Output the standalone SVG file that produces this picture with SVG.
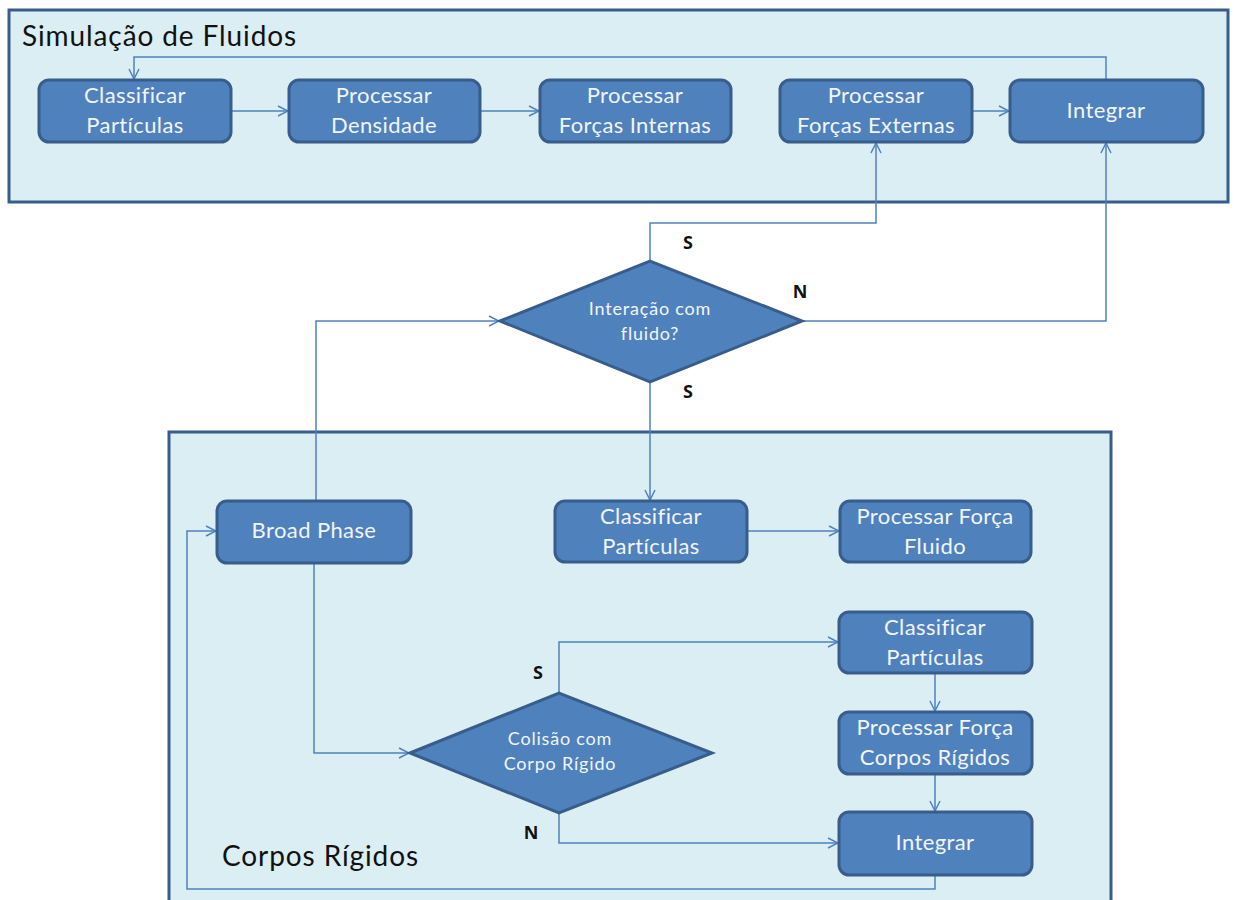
<svg xmlns="http://www.w3.org/2000/svg" width="1234" height="900" viewBox="0 0 1234 900">
  <defs>
    <marker id="arr" viewBox="0 0 12 12" refX="11" refY="6" markerWidth="12" markerHeight="12" markerUnits="userSpaceOnUse" orient="auto">
      <path d="M1,1 L11,6 L1,11" fill="none" stroke="#4f81bd" stroke-width="1.5"/>
    </marker>
    <style>
      .panel { fill: #dbeef4; stroke: #385d8a; stroke-width: 3; }
      .box { fill: #4f81bd; stroke: #385d8a; stroke-width: 3; }
      .lbl { fill: #f2f5fa; font-family: Lato, "Open Sans", sans-serif; font-size: 22px; letter-spacing: 0.4px; text-anchor: middle; }
      .dlbl { fill: #f2f5fa; font-family: Lato, "Open Sans", sans-serif; font-size: 18px; letter-spacing: 0.8px; text-anchor: middle; }
      .title { fill: #111; font-family: Lato, "Open Sans", sans-serif; font-size: 28px; letter-spacing: 0.9px; }
      .yn { fill: #111; font-family: "Open Sans", Lato, sans-serif; font-size: 18px; font-weight: bold; text-anchor: middle; }
      .conn { fill: none; stroke: #4f81bd; stroke-width: 1.5; }
    </style>
  </defs>

  <rect width="1234" height="900" fill="#ffffff"/>

  <!-- containers -->
  <g id="fluid-panel">
    <rect class="panel" x="9" y="10" width="1219" height="192"/>
    <text class="title" x="22" y="46">Simulação de Fluidos</text>
  </g>
  <g id="rigid-panel">
    <rect class="panel" x="169" y="432" width="942" height="490"/>
    <text class="title" x="222" y="866" font-size="26" letter-spacing="0.5">Corpos Rígidos</text>
  </g>

  <!-- connectors -->
  <g id="connectors">
    <!-- fluid pipeline -->
    <path class="conn" marker-end="url(#arr)" d="M231,111 H288"/>
    <path class="conn" marker-end="url(#arr)" d="M480,111 H539"/>
    <path class="conn" marker-end="url(#arr)" d="M972,111 H1009"/>
    <path class="conn" marker-end="url(#arr)" d="M1106,80 V57 H134 V79"/>
    <!-- fluid interaction decision -->
    <path class="conn" marker-end="url(#arr)" d="M650,261 V223 H876 V143"/>
    <path class="conn" marker-end="url(#arr)" d="M802,321 H1106 V143"/>
    <path class="conn" marker-end="url(#arr)" d="M650,382 V500"/>
    <path class="conn" marker-end="url(#arr)" d="M316,500 V321 H499"/>
    <path class="conn" marker-end="url(#arr)" d="M747,531 H839"/>
    <!-- rigid body pipeline -->
    <path class="conn" marker-end="url(#arr)" d="M314,563 V753 H409"/>
    <path class="conn" marker-end="url(#arr)" d="M559,693 V642 H838"/>
    <path class="conn" marker-end="url(#arr)" d="M559,813 V843 H838"/>
    <path class="conn" marker-end="url(#arr)" d="M935,674 V711"/>
    <path class="conn" marker-end="url(#arr)" d="M935,775 V811"/>
    <path class="conn" marker-end="url(#arr)" d="M935,876 V889 H187 V531 H216"/>
    <!-- branch labels -->
    <text class="yn" x="688" y="249">S</text>
    <text class="yn" x="800" y="298">N</text>
    <text class="yn" x="688" y="398">S</text>
    <text class="yn" x="538" y="679">S</text>
    <text class="yn" x="531" y="839">N</text>
  </g>

  <!-- fluid nodes -->
  <g id="fl-classificar">
    <rect class="box" x="39" y="80" width="192" height="62" rx="10"/>
    <text class="lbl" x="135" y="103">Classificar</text>
    <text class="lbl" x="135" y="133">Partículas</text>
  </g>
  <g id="fl-densidade">
    <rect class="box" x="289" y="80" width="191" height="62" rx="10"/>
    <text class="lbl" x="384" y="103">Processar</text>
    <text class="lbl" x="384" y="133">Densidade</text>
  </g>
  <g id="fl-internas">
    <rect class="box" x="540" y="80" width="191" height="62" rx="10"/>
    <text class="lbl" x="635" y="103">Processar</text>
    <text class="lbl" x="635" y="133">Forças Internas</text>
  </g>
  <g id="fl-externas">
    <rect class="box" x="780" y="80" width="192" height="62" rx="10"/>
    <text class="lbl" x="876" y="103">Processar</text>
    <text class="lbl" x="876" y="133">Forças Externas</text>
  </g>
  <g id="fl-integrar">
    <rect class="box" x="1010" y="80" width="193" height="62" rx="10"/>
    <text class="lbl" x="1106" y="118">Integrar</text>
  </g>

  <!-- decisions -->
  <g id="dec-fluido">
    <polygon class="box" points="500,321 650,261 802,321 650,382"/>
    <text class="dlbl" x="650" y="315">Interação com</text>
    <text class="dlbl" x="650" y="340">fluido?</text>
  </g>
  <g id="dec-colisao">
    <polygon class="box" points="410,753 559,693 712,753 559,813"/>
    <text class="dlbl" x="560" y="745">Colisão com</text>
    <text class="dlbl" x="560" y="770">Corpo Rígido</text>
  </g>

  <!-- rigid body nodes -->
  <g id="rb-broad">
    <rect class="box" x="217" y="501" width="194" height="62" rx="10"/>
    <text class="lbl" x="314" y="538">Broad Phase</text>
  </g>
  <g id="rb-classificar-fluido">
    <rect class="box" x="555" y="501" width="192" height="61" rx="10"/>
    <text class="lbl" x="651" y="524">Classificar</text>
    <text class="lbl" x="651" y="554">Partículas</text>
  </g>
  <g id="rb-forca-fluido">
    <rect class="box" x="840" y="501" width="191" height="61" rx="10"/>
    <text class="lbl" x="935" y="524">Processar Força</text>
    <text class="lbl" x="935" y="554">Fluido</text>
  </g>
  <g id="rb-classificar">
    <rect class="box" x="839" y="612" width="193" height="61" rx="10"/>
    <text class="lbl" x="935" y="635">Classificar</text>
    <text class="lbl" x="935" y="665">Partículas</text>
  </g>
  <g id="rb-forca-corpos">
    <rect class="box" x="839" y="712" width="193" height="62" rx="10"/>
    <text class="lbl" x="935" y="735">Processar Força</text>
    <text class="lbl" x="935" y="765">Corpos Rígidos</text>
  </g>
  <g id="rb-integrar">
    <rect class="box" x="839" y="812" width="193" height="63" rx="10"/>
    <text class="lbl" x="935" y="850">Integrar</text>
  </g>
</svg>
